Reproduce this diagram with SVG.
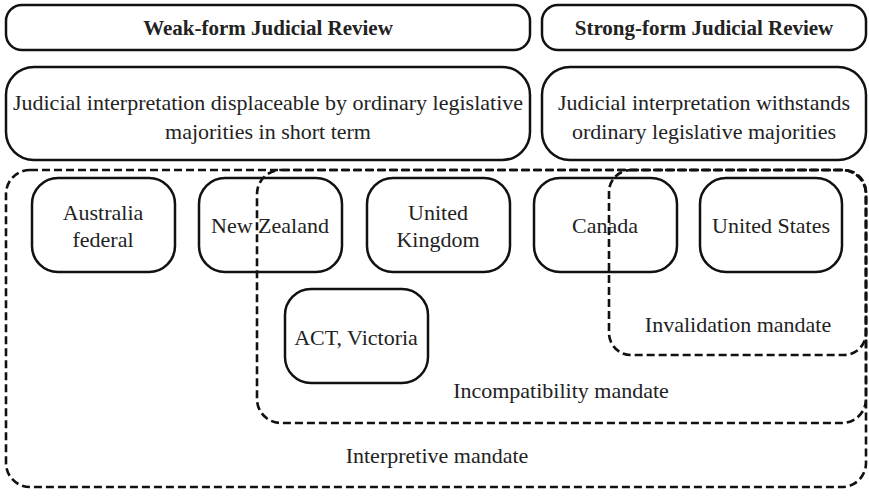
<svg xmlns="http://www.w3.org/2000/svg" width="869" height="499" viewBox="0 0 869 499">
<style>
.box{fill:none;stroke:#111;stroke-width:2.5}
.dash{fill:none;stroke:#111;stroke-width:2.6;stroke-dasharray:8 4}
text{font-family:"Liberation Serif","Times New Roman",serif;fill:#222;text-anchor:middle}
.t{font-size:21px;font-weight:bold}
.b{font-size:22px}
</style>
<rect width="869" height="499" fill="#fff"/>
<g id="regions">
<rect class="dash" x="6" y="170" width="860" height="317" rx="24"/>
<rect class="dash" x="257" y="170" width="609" height="253" rx="24"/>
<rect class="dash" x="609" y="170" width="257" height="185" rx="22"/>
<text class="b" x="437" y="463">Interpretive mandate</text>
<text class="b" x="561" y="398">Incompatibility mandate</text>
<text class="b" x="738" y="332">Invalidation mandate</text>
</g>
<g id="weak-title"><rect class="box" x="6" y="5" width="524" height="45" rx="16"/><text class="t" x="268" y="35">Weak-form Judicial Review</text></g>
<g id="strong-title"><rect class="box" x="542" y="5" width="324" height="45" rx="16"/><text class="t" x="704" y="35">Strong-form Judicial Review</text></g>
<g id="weak-desc"><rect class="box" x="6" y="67" width="524" height="93" rx="28"/><text class="b" x="268" y="110">Judicial interpretation displaceable by ordinary legislative</text><text class="b" x="268" y="139">majorities in short term</text></g>
<g id="strong-desc"><rect class="box" x="542" y="67" width="324" height="93" rx="28"/><text class="b" x="704" y="110">Judicial interpretation withstands</text><text class="b" x="704" y="139">ordinary legislative majorities</text></g>
<g id="australia"><rect class="box" x="32" y="178" width="143" height="94" rx="26"/><text class="b" x="103" y="220">Australia</text><text class="b" x="103" y="247">federal</text></g>
<g id="nz"><rect class="box" x="199" y="178" width="143" height="94" rx="26"/><text class="b" x="270" y="233">New Zealand</text></g>
<g id="uk"><rect class="box" x="367" y="178" width="143" height="94" rx="26"/><text class="b" x="438" y="220">United</text><text class="b" x="438" y="247">Kingdom</text></g>
<g id="canada"><rect class="box" x="534" y="178" width="143" height="94" rx="26"/><text class="b" x="605" y="233">Canada</text></g>
<g id="us"><rect class="box" x="700" y="178" width="142" height="94" rx="26"/><text class="b" x="771" y="233">United States</text></g>
<g id="act"><rect class="box" x="285" y="289" width="143" height="94" rx="26"/><text class="b" x="356" y="345">ACT, Victoria</text></g>
</svg>
